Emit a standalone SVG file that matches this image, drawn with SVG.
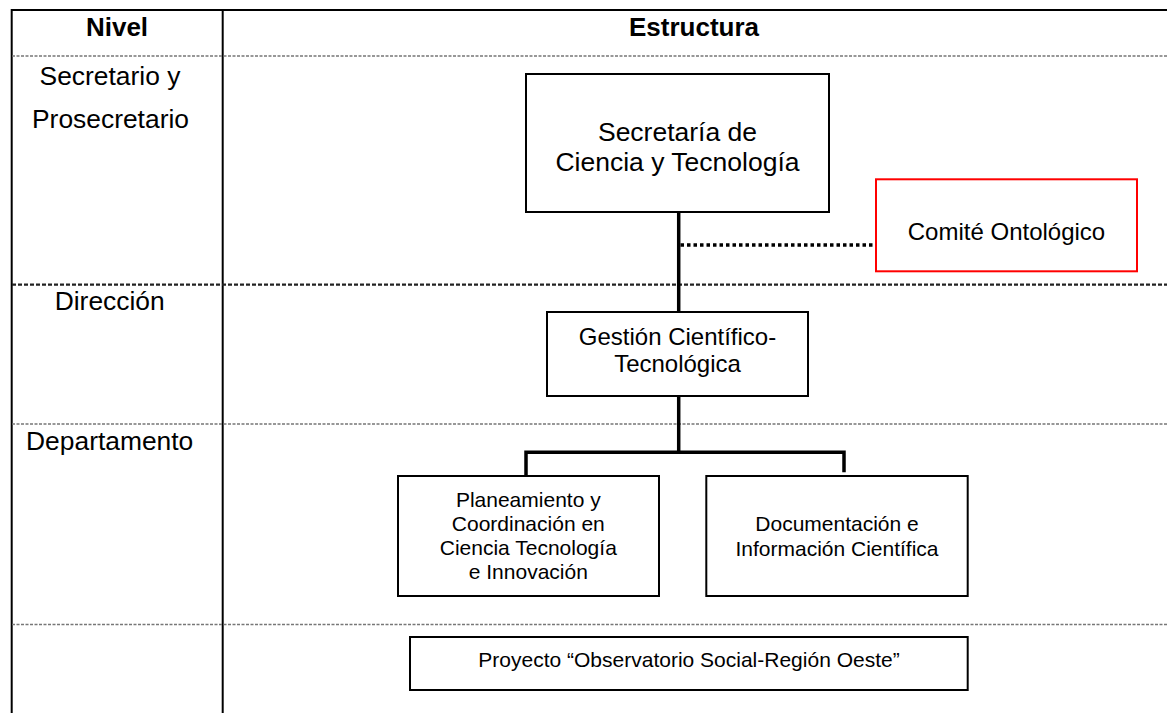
<svg xmlns="http://www.w3.org/2000/svg" width="1167" height="713" viewBox="0 0 1167 713">
  <style>
    text { font-family: "Liberation Sans", Arial, sans-serif; fill: #000; text-anchor: middle; }
    .hdr { font-size: 26px; font-weight: bold; }
    .lvl { font-size: 26.4px; }
    .big { font-size: 26.5px; }
    .mid { font-size: 24px; }
    .sm { font-size: 21px; }
    .box { fill: #fff; stroke: #000; stroke-width: 2; }
    .red { fill: #fff; stroke: #ff0000; stroke-width: 2; }
    .grid { stroke: #000; stroke-width: 2; fill: none; }
    .row { stroke: #777; stroke-width: 1.5; stroke-dasharray: 3 1.5; fill: none; }
    .rowdark { stroke: #222; stroke-width: 2.2; stroke-dasharray: 4 2; fill: none; }
    .conn { stroke: #000; stroke-width: 3.5; fill: none; }
    .dot { stroke: #000; stroke-width: 3.5; stroke-dasharray: 3.5 3; fill: none; }
  </style>
  <rect width="1167" height="713" fill="#fff"/>

  <g id="table">
    <line class="grid" x1="11" y1="10" x2="1167" y2="10"/>
    <line class="grid" x1="11.7" y1="9" x2="11.7" y2="713"/>
    <line class="grid" x1="222.7" y1="9" x2="222.7" y2="713"/>
    <line class="row" x1="12" y1="56" x2="1167" y2="56"/>
    <line class="rowdark" x1="12" y1="284.7" x2="1167" y2="284.7"/>
    <line class="row" x1="12" y1="424" x2="1167" y2="424"/>
    <line class="row" x1="12" y1="624.5" x2="1167" y2="624.5"/>
    <text class="hdr" x="117" y="36">Nivel</text>
    <text class="hdr" x="694" y="36">Estructura</text>
    <text class="lvl" x="110" y="85">Secretario y</text>
    <text class="lvl" x="110.5" y="128.3">Prosecretario</text>
    <text class="lvl" x="109.7" y="310">Dirección</text>
    <text class="lvl" x="109.7" y="450">Departamento</text>
  </g>

  <g id="connectors">
    <line class="conn" x1="678.7" y1="212" x2="678.7" y2="312"/>
    <line class="dot" x1="680.5" y1="245" x2="876" y2="245"/>
    <line class="conn" x1="678.7" y1="396" x2="678.7" y2="452.3"/>
    <polyline class="conn" points="526,476 526,452.3 844,452.3 844,472.3"/>
  </g>

  <g id="secretaria">
    <rect class="box" x="526" y="74" width="303" height="138"/>
    <text class="big" x="677.5" y="140.7">Secretaría de</text>
    <text class="big" x="677.5" y="170.7">Ciencia y Tecnología</text>
  </g>

  <g id="comite">
    <rect class="red" x="876" y="179.3" width="261" height="92"/>
    <text class="mid" x="1006.5" y="240">Comité Ontológico</text>
  </g>

  <g id="gestion">
    <rect class="box" x="547" y="312" width="261" height="84"/>
    <text class="mid" x="677.5" y="345">Gestión Científico-</text>
    <text class="mid" x="677.5" y="371.7">Tecnológica</text>
  </g>

  <g id="planeamiento">
    <rect class="box" x="398" y="476" width="261" height="120"/>
    <text class="sm" x="528.3" y="506.7">Planeamiento y</text>
    <text class="sm" x="528.3" y="530.7">Coordinación en</text>
    <text class="sm" x="528.3" y="554.7">Ciencia Tecnología</text>
    <text class="sm" x="528.3" y="578.7">e Innovación</text>
  </g>

  <g id="documentacion">
    <rect class="box" x="706.3" y="476" width="261.4" height="120"/>
    <text class="sm" x="837" y="530.7">Documentación e</text>
    <text class="sm" x="837" y="555.7">Información Científica</text>
  </g>

  <g id="proyecto">
    <rect class="box" x="410" y="637" width="557.7" height="53"/>
    <text class="sm" x="689" y="666.7">Proyecto “Observatorio Social-Región Oeste”</text>
  </g>
</svg>
